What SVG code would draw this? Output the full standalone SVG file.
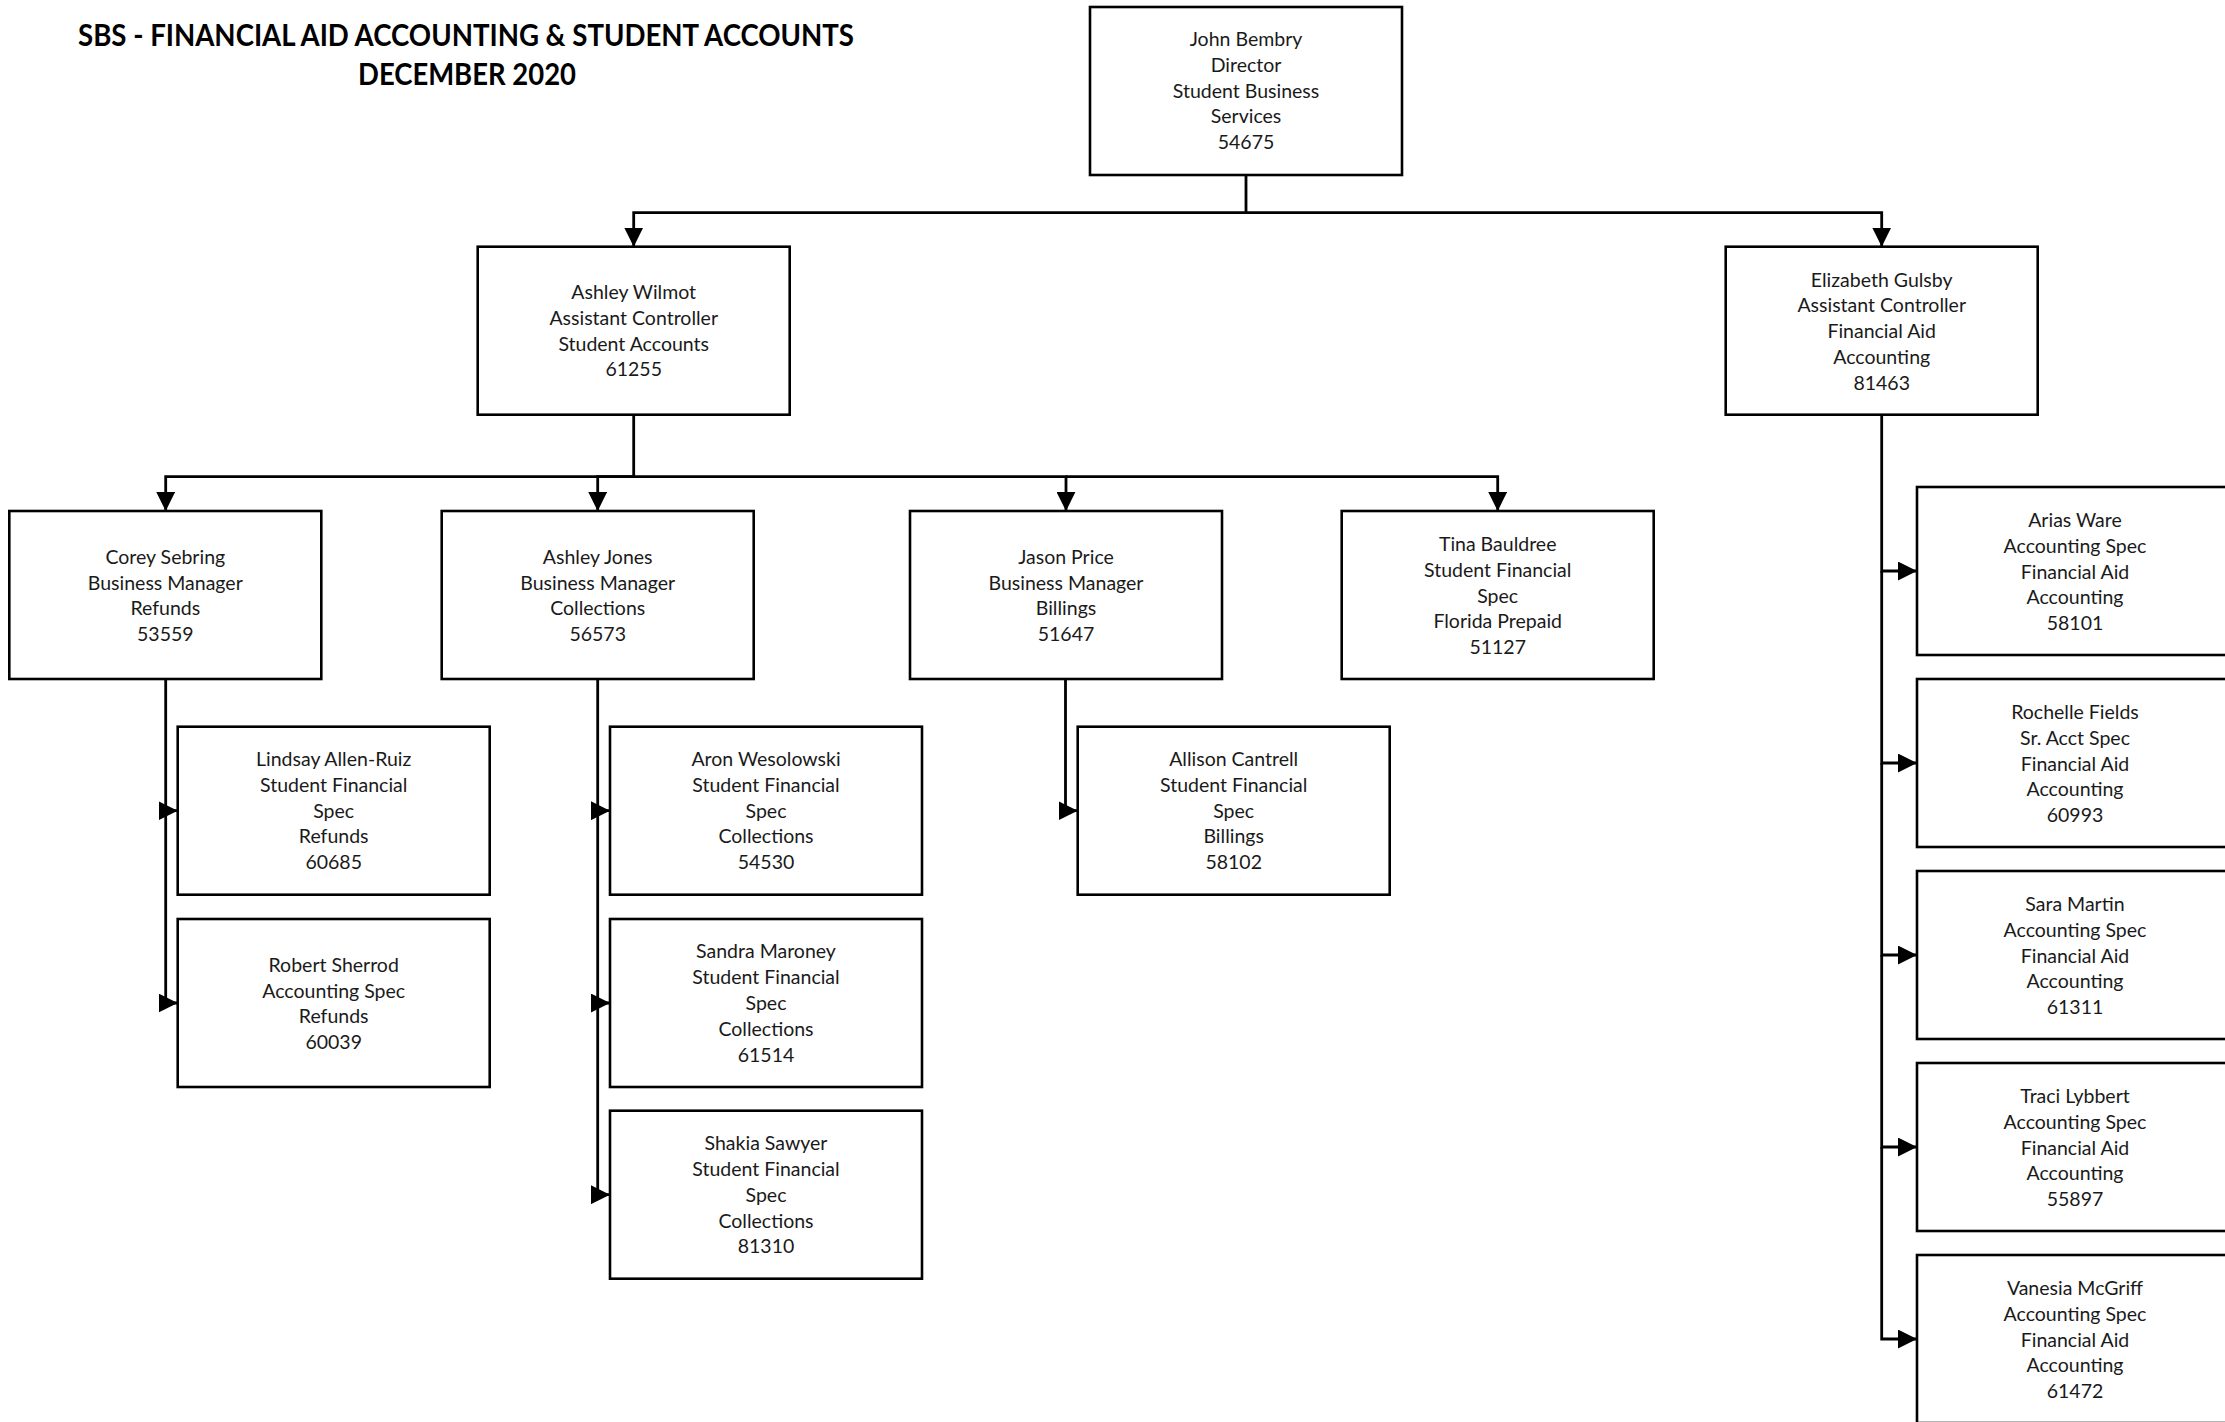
<svg xmlns="http://www.w3.org/2000/svg" width="2225" height="1422" viewBox="0 0 2225 1422">
<style>
.bg{fill:#fff}
.n rect{fill:#fff;stroke:#000;stroke-width:2.6}
.n text{font-family:Lato,"Liberation Sans",sans-serif;font-size:19.5px;text-anchor:middle;fill:#1a1a1a}
.c path{fill:none;stroke:#000;stroke-width:2.8}
.t{font-family:Lato,"Liberation Sans",sans-serif;font-weight:bold;font-size:30px;text-anchor:middle;fill:#000}
</style>
<defs>
<marker id="arr" markerUnits="userSpaceOnUse" markerWidth="19" markerHeight="19" viewBox="0 0 18.5 18.4" refX="18.5" refY="9.2" orient="auto">
<path d="M0,0 L18.5,9.2 L0,18.4 Z" fill="#000"/>
</marker>
</defs>
<rect class="bg" x="0" y="0" width="2225" height="1422"/>
<g id="title">
<text class="t" x="466" y="46" textLength="776" lengthAdjust="spacingAndGlyphs">SBS - FINANCIAL AID ACCOUNTING &amp; STUDENT ACCOUNTS</text>
<text class="t" x="467" y="85" textLength="218" lengthAdjust="spacingAndGlyphs">DECEMBER 2020</text>
</g>
<g id="connectors" class="c">
<path d="M1246,175 V212.7 H633.7 V246.7" marker-end="url(#arr)"/>
<path d="M1246,212.7 H1881.7 V246.7" marker-end="url(#arr)"/>
<path d="M633.7,414.7 V476.7 H165.7 V511" marker-end="url(#arr)"/>
<path d="M633.7,476.7 H597.7 V511" marker-end="url(#arr)"/>
<path d="M633.7,476.7 H1066 V511" marker-end="url(#arr)"/>
<path d="M1066,476.7 H1497.7 V511" marker-end="url(#arr)"/>
<path d="M165.7,679 V810.7 H177.7" marker-end="url(#arr)"/>
<path d="M165.7,810.7 V1003 H177.7" marker-end="url(#arr)"/>
<path d="M597.7,679 V810.7 H610" marker-end="url(#arr)"/>
<path d="M597.7,810.7 V1003 H610" marker-end="url(#arr)"/>
<path d="M597.7,1003 V1194.7 H610" marker-end="url(#arr)"/>
<path d="M1065.5,679 V810.7 H1077.7" marker-end="url(#arr)"/>
<path d="M1881.7,414.7 V571 H1917" marker-end="url(#arr)"/>
<path d="M1881.7,571 V763 H1917" marker-end="url(#arr)"/>
<path d="M1881.7,763 V955 H1917" marker-end="url(#arr)"/>
<path d="M1881.7,955 V1147 H1917" marker-end="url(#arr)"/>
<path d="M1881.7,1147 V1339 H1917" marker-end="url(#arr)"/>
</g>
<g id="john-bembry" class="n"><rect x="1090" y="7" width="312" height="168"/>
<text x="1246" y="46"><tspan x="1246">John Bembry</tspan><tspan x="1246" dy="25.8">Director</tspan><tspan x="1246" dy="25.8">Student Business</tspan><tspan x="1246" dy="25.8">Services</tspan><tspan x="1246" dy="25.8">54675</tspan></text></g>
<g id="ashley-wilmot" class="n"><rect x="477.7" y="246.7" width="312" height="168"/>
<text x="633.7" y="299"><tspan x="633.7">Ashley Wilmot</tspan><tspan x="633.7" dy="25.8">Assistant Controller</tspan><tspan x="633.7" dy="25.8">Student Accounts</tspan><tspan x="633.7" dy="25.8">61255</tspan></text></g>
<g id="elizabeth-gulsby" class="n"><rect x="1725.7" y="246.7" width="312" height="168"/>
<text x="1881.7" y="286.6"><tspan x="1881.7">Elizabeth Gulsby</tspan><tspan x="1881.7" dy="25.8">Assistant Controller</tspan><tspan x="1881.7" dy="25.8">Financial Aid</tspan><tspan x="1881.7" dy="25.8">Accounting</tspan><tspan x="1881.7" dy="25.8">81463</tspan></text></g>
<g id="corey-sebring" class="n"><rect x="9.3" y="511" width="312" height="168"/>
<text x="165.3" y="563.8"><tspan x="165.3">Corey Sebring</tspan><tspan x="165.3" dy="25.8">Business Manager</tspan><tspan x="165.3" dy="25.8">Refunds</tspan><tspan x="165.3" dy="25.8">53559</tspan></text></g>
<g id="ashley-jones" class="n"><rect x="441.7" y="511" width="312" height="168"/>
<text x="597.7" y="563.8"><tspan x="597.7">Ashley Jones</tspan><tspan x="597.7" dy="25.8">Business Manager</tspan><tspan x="597.7" dy="25.8">Collections</tspan><tspan x="597.7" dy="25.8">56573</tspan></text></g>
<g id="jason-price" class="n"><rect x="910" y="511" width="312" height="168"/>
<text x="1066" y="563.8"><tspan x="1066">Jason Price</tspan><tspan x="1066" dy="25.8">Business Manager</tspan><tspan x="1066" dy="25.8">Billings</tspan><tspan x="1066" dy="25.8">51647</tspan></text></g>
<g id="tina-bauldree" class="n"><rect x="1341.7" y="511" width="312" height="168"/>
<text x="1497.7" y="550.9"><tspan x="1497.7">Tina Bauldree</tspan><tspan x="1497.7" dy="25.8">Student Financial</tspan><tspan x="1497.7" dy="25.8">Spec</tspan><tspan x="1497.7" dy="25.8">Florida Prepaid</tspan><tspan x="1497.7" dy="25.8">51127</tspan></text></g>
<g id="lindsay-allen-ruiz" class="n"><rect x="177.7" y="726.7" width="312" height="168"/>
<text x="333.7" y="766"><tspan x="333.7">Lindsay Allen-Ruiz</tspan><tspan x="333.7" dy="25.8">Student Financial</tspan><tspan x="333.7" dy="25.8">Spec</tspan><tspan x="333.7" dy="25.8">Refunds</tspan><tspan x="333.7" dy="25.8">60685</tspan></text></g>
<g id="robert-sherrod" class="n"><rect x="177.7" y="919" width="312" height="168"/>
<text x="333.7" y="971.8"><tspan x="333.7">Robert Sherrod</tspan><tspan x="333.7" dy="25.8">Accounting Spec</tspan><tspan x="333.7" dy="25.8">Refunds</tspan><tspan x="333.7" dy="25.8">60039</tspan></text></g>
<g id="aron-wesolowski" class="n"><rect x="610" y="726.7" width="312" height="168"/>
<text x="766" y="766"><tspan x="766">Aron Wesolowski</tspan><tspan x="766" dy="25.8">Student Financial</tspan><tspan x="766" dy="25.8">Spec</tspan><tspan x="766" dy="25.8">Collections</tspan><tspan x="766" dy="25.8">54530</tspan></text></g>
<g id="sandra-maroney" class="n"><rect x="610" y="919" width="312" height="168"/>
<text x="766" y="958.3"><tspan x="766">Sandra Maroney</tspan><tspan x="766" dy="25.8">Student Financial</tspan><tspan x="766" dy="25.8">Spec</tspan><tspan x="766" dy="25.8">Collections</tspan><tspan x="766" dy="25.8">61514</tspan></text></g>
<g id="shakia-sawyer" class="n"><rect x="610" y="1110.7" width="312" height="168"/>
<text x="766" y="1150.2"><tspan x="766">Shakia Sawyer</tspan><tspan x="766" dy="25.8">Student Financial</tspan><tspan x="766" dy="25.8">Spec</tspan><tspan x="766" dy="25.8">Collections</tspan><tspan x="766" dy="25.8">81310</tspan></text></g>
<g id="allison-cantrell" class="n"><rect x="1077.7" y="726.7" width="312" height="168"/>
<text x="1233.7" y="766"><tspan x="1233.7">Allison Cantrell</tspan><tspan x="1233.7" dy="25.8">Student Financial</tspan><tspan x="1233.7" dy="25.8">Spec</tspan><tspan x="1233.7" dy="25.8">Billings</tspan><tspan x="1233.7" dy="25.8">58102</tspan></text></g>
<g id="arias-ware" class="n"><rect x="1917" y="487" width="312" height="168"/>
<text x="2075" y="526.9"><tspan x="2075">Arias Ware</tspan><tspan x="2075" dy="25.8">Accounting Spec</tspan><tspan x="2075" dy="25.8">Financial Aid</tspan><tspan x="2075" dy="25.8">Accounting</tspan><tspan x="2075" dy="25.8">58101</tspan></text></g>
<g id="rochelle-fields" class="n"><rect x="1917" y="679" width="312" height="168"/>
<text x="2075" y="718.9"><tspan x="2075">Rochelle Fields</tspan><tspan x="2075" dy="25.8">Sr. Acct Spec</tspan><tspan x="2075" dy="25.8">Financial Aid</tspan><tspan x="2075" dy="25.8">Accounting</tspan><tspan x="2075" dy="25.8">60993</tspan></text></g>
<g id="sara-martin" class="n"><rect x="1917" y="871" width="312" height="168"/>
<text x="2075" y="910.9"><tspan x="2075">Sara Martin</tspan><tspan x="2075" dy="25.8">Accounting Spec</tspan><tspan x="2075" dy="25.8">Financial Aid</tspan><tspan x="2075" dy="25.8">Accounting</tspan><tspan x="2075" dy="25.8">61311</tspan></text></g>
<g id="traci-lybbert" class="n"><rect x="1917" y="1063" width="312" height="168"/>
<text x="2075" y="1102.9"><tspan x="2075">Traci Lybbert</tspan><tspan x="2075" dy="25.8">Accounting Spec</tspan><tspan x="2075" dy="25.8">Financial Aid</tspan><tspan x="2075" dy="25.8">Accounting</tspan><tspan x="2075" dy="25.8">55897</tspan></text></g>
<g id="vanesia-mcgriff" class="n"><rect x="1917" y="1255" width="312" height="168"/>
<text x="2075" y="1294.9"><tspan x="2075">Vanesia McGriff</tspan><tspan x="2075" dy="25.8">Accounting Spec</tspan><tspan x="2075" dy="25.8">Financial Aid</tspan><tspan x="2075" dy="25.8">Accounting</tspan><tspan x="2075" dy="25.8">61472</tspan></text></g>
</svg>
